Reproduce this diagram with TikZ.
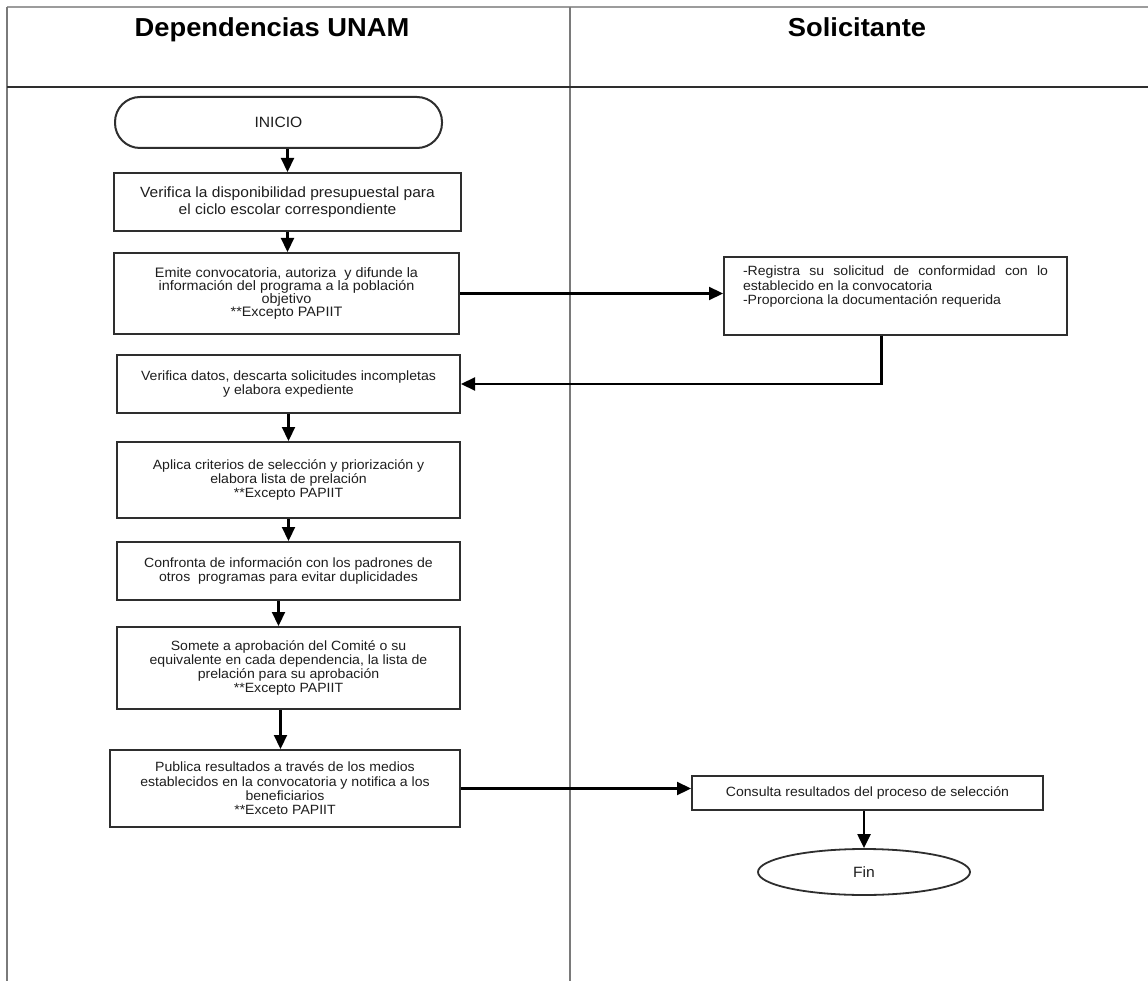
\documentclass[tikz,border=0pt]{standalone}
\usepackage{fontspec}
\setmainfont{Liberation Sans}[FakeStretch=1.05]
\usepackage{xcolor}
\usetikzlibrary{arrows.meta, positioning, calc, shapes.geometric}
\definecolor{ink}{HTML}{1E1E1E}
\definecolor{frame}{HTML}{7A7A7A}
\definecolor{frametop}{HTML}{9C9C9C}
\definecolor{rule}{HTML}{2E2E2E}
\tikzset{
  >={Triangle[length=14pt, width=13pt]},
  %
  stepbox/.style={
    draw=rule, line width=2pt, fill=white, align=center, text=ink,
    inner sep=4pt, font=\fontsize{13.4}{14.3}\selectfont,
  },
  terminal/.style={stepbox, rounded corners=25pt, font=\fontsize{14.9}{16}\selectfont},
  endnode/.style={stepbox, ellipse, line width=1.8pt, font=\fontsize{14.9}{16}\selectfont},
  %
  flow/.style={draw=black, line width=2.2pt, ->},
  lane/.style={draw=frame, line width=1.6pt},
  lanehead/.style={font=\fontsize{26}{30}\selectfont\bfseries, text=black, anchor=base},
}

\begin{document}
\begin{tikzpicture}[x=1pt, y=-1pt]

  \useasboundingbox (0,0) rectangle (1148,981);

  % --- swim lanes ---------------------------------------------------------
  \draw[draw=frametop, line width=2pt] (7,7) -- (1148,7);
  \draw[lane, line width=2pt] (7,7) -- (7,981);
  \draw[lane] (570,7) -- (570,981);
  \draw[draw=rule, line width=2.4pt] (7,87) -- (1148,87);

  \node[lanehead] (hdep) at (272,37) {Dependencias UNAM};
  \node[lanehead] (hsol) at (857,37) {Solicitante};

  % --- Dependencias UNAM -------------------------------------------------
  \node[terminal, minimum width=327pt, minimum height=51pt] (inicio) at (278.5,122.5)
    {INICIO};

  \node[stepbox, minimum width=347pt, minimum height=58pt,
        font=\fontsize{14.8}{16.7}\selectfont] (verifica) at (287.5,202)
    {Verifica la disponibilidad presupuestal para\\el ciclo escolar correspondiente};

  \node[stepbox, minimum width=345pt, minimum height=81pt,
        font=\fontsize{13.7}{13}\selectfont] (emite) at (286.5,293.5)
    {Emite convocatoria, autoriza\ \ y difunde la\\información del programa a la población\\objetivo\\**Excepto PAPIIT};

  \node[stepbox, minimum width=343pt, minimum height=58pt] (datos) at (288.5,384)
    {Verifica datos, descarta solicitudes incompletas\\y elabora expediente};

  \node[stepbox, minimum width=343pt, minimum height=76pt] (criterios) at (288.5,480)
    {Aplica criterios de selección y priorización y\\elabora lista de prelación\\**Excepto PAPIIT};

  \node[stepbox, minimum width=343pt, minimum height=58pt] (confronta) at (288.5,571)
    {Confronta de información con los padrones de\\otros\ \ programas para evitar duplicidades};

  \node[stepbox, minimum width=343pt, minimum height=82pt] (somete) at (288.5,668)
    {Somete a aprobación del Comité o su\\equivalente en cada dependencia, la lista de\\prelación para su aprobación\\**Excepto PAPIIT};

  \node[stepbox, minimum width=350pt, minimum height=77pt] (publica) at (285,788.5)
    {Publica resultados a través de los medios\\establecidos en la convocatoria y notifica a los\\beneficiarios\\**Exceto PAPIIT};

  % --- Solicitante --------------------------------------------------------
  \node[stepbox, anchor=north west, align=justify, text width=305pt,
        inner xsep=19pt, inner ysep=9pt, text depth=50pt] (registra) at (723,256)
    {-Registra su solicitud de conformidad con lo\linebreak
     establecido en la convocatoria\\-Proporciona la documentación requerida};

  \node[stepbox, minimum width=351pt, minimum height=34pt] (consulta) at (867.5,793)
    {Consulta resultados del proceso de selección};

  \node[endnode, minimum width=212pt, minimum height=46pt] (fin) at (864,872) {Fin};

  % --- the flow ----------------------------------------------------------
  \draw[flow] (inicio.south -| verifica.north) -- (verifica.north);
  \draw[flow] (verifica.south) -- (verifica.south |- emite.north);
  \draw[flow] (emite.east) -- (emite.east -| registra.west);
  \draw[flow] ([xshift=-14pt]registra.south) |- (datos.east);
  \draw[flow] (datos.south) -- (datos.south |- criterios.north);
  \draw[flow] (criterios.south) -- (criterios.south |- confronta.north);
  \draw[flow] ([xshift=-10pt]confronta.south) -- ([xshift=-10pt]confronta.south |- somete.north);
  \draw[flow] ([xshift=-8pt]somete.south) -- ([xshift=-8pt]somete.south |- publica.north);
  \draw[flow] (publica.east) -- (publica.east -| consulta.west);
  \draw[flow] (consulta.south -| fin.north) -- (fin.north);

\end{tikzpicture}
\end{document}
